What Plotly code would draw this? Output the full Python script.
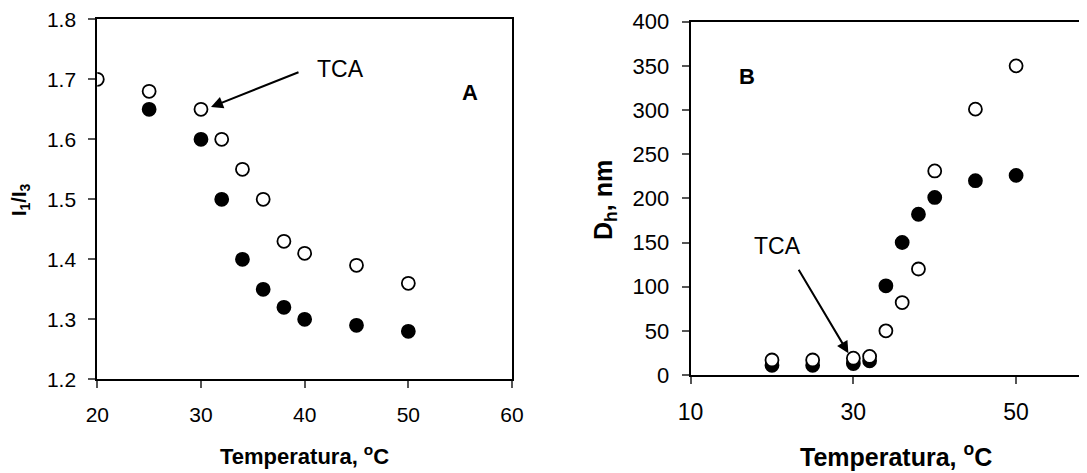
import plotly.graph_objects as go

# Window is 1087x473; the page body has an 8px default margin,
# so the figure is sized to fill the remaining area.
WIN_W, WIN_H = 1087, 473
OFF = 8
W, H = WIN_W - OFF, WIN_H - OFF

# Panel A: I1/I3 vs temperature
tempA_open = [20, 25, 30, 32, 34, 36, 38, 40, 45, 50]
ratio_open = [1.70, 1.68, 1.65, 1.60, 1.55, 1.50, 1.43, 1.41, 1.39, 1.36]
tempA_fill = [25, 30, 32, 34, 36, 38, 40, 45, 50]
ratio_fill = [1.65, 1.60, 1.50, 1.40, 1.35, 1.32, 1.30, 1.29, 1.28]

# Panel B: Dh vs temperature
tempB = [20, 25, 30, 32, 34, 36, 38, 40, 45, 50]
dh_open = [17, 17, 19, 21, 50, 82, 120, 231, 301, 350]
dh_fill = [11, 11, 13, 16, 101, 150, 182, 201, 220, 226]

xA_ticks = [20, 30, 40, 50, 60]
yA_ticks = [1.2, 1.3, 1.4, 1.5, 1.6, 1.7, 1.8]
xB_ticks = [10, 30, 50]
yB_ticks = [0, 50, 100, 150, 200, 250, 300, 350, 400]

FONT = "Liberation Sans, Arial, sans-serif"


def px(x):
    return (x - OFF) / W


def py(y):
    return 1 - (y - OFF) / H


fig = go.Figure()

mk_fill = dict(size=13, color="black", line=dict(color="black", width=1.8))
mk_open = dict(size=13, color="white", line=dict(color="black", width=1.8))

fig.add_trace(go.Scatter(x=tempA_fill, y=ratio_fill, mode="markers", marker=mk_fill,
                         xaxis="x", yaxis="y", showlegend=False))
fig.add_trace(go.Scatter(x=tempA_open, y=ratio_open, mode="markers", marker=mk_open,
                         xaxis="x", yaxis="y", showlegend=False))
fig.add_trace(go.Scatter(x=tempB, y=dh_fill, mode="markers", marker=mk_fill,
                         xaxis="x2", yaxis="y2", showlegend=False))
fig.add_trace(go.Scatter(x=tempB, y=dh_open, mode="markers", marker=mk_open,
                         xaxis="x2", yaxis="y2", showlegend=False))

axis_common = dict(showgrid=False, zeroline=False, showline=True, linecolor="black",
                   linewidth=2, ticks="outside", ticklen=7, tickwidth=1.5,
                   tickcolor="#555", automargin=False, ticklabeloverflow="allow")

# Panel A axes
a_left, a_right, a_top, a_bot = 97.3, 512, 19.3, 379.3
fig.update_layout(
    xaxis=dict(domain=[px(a_left), px(a_right)], range=[20, 60], tickvals=xA_ticks,
               mirror=True, anchor="y", ticklabelstandoff=8,
               tickfont=dict(family=FONT, size=21, color="black"), **axis_common),
    yaxis=dict(domain=[py(a_bot), py(a_top)], range=[1.2, 1.8], tickvals=yA_ticks,
               tickformat=".1f", mirror=True, anchor="x", ticklabelstandoff=8,
               tickfont=dict(family=FONT, size=21, color="black"), **axis_common),
    # inside half of the crossing x ticks
    xaxis3=dict(domain=[px(a_left), px(a_right)], range=[20, 60], tickvals=xA_ticks,
                overlaying="x", anchor="y", side="bottom", showline=False,
                showgrid=False, zeroline=False, showticklabels=False,
                ticks="inside", ticklen=4, tickwidth=1.5, tickcolor="#555",
                automargin=False),
)

# Panel B axes (cut at right window edge)
b_left, b_top, b_bot = 690.6, 21.7, 375
px_per_unit = (1016.1 - b_left) / 40
b_xmax = 10 + (WIN_W - b_left) / px_per_unit
fig.update_layout(
    xaxis2=dict(domain=[px(b_left), 1.0], range=[10, b_xmax], tickvals=xB_ticks,
                mirror=True, anchor="y2", ticklabelstandoff=8,
                tickfont=dict(family=FONT, size=23, color="black"), **axis_common),
    yaxis2=dict(domain=[py(b_bot), py(b_top)], range=[0, 400], tickvals=yB_ticks,
                mirror=False, anchor="x2", ticklabelstandoff=8,
                tickfont=dict(family=FONT, size=22, color="black"), **axis_common),
    xaxis4=dict(domain=[px(b_left), 1.0], range=[10, b_xmax], tickvals=xB_ticks,
                overlaying="x2", anchor="y2", side="bottom", showline=False,
                showgrid=False, zeroline=False, showticklabels=False,
                ticks="inside", ticklen=4, tickwidth=1.5, tickcolor="#555",
                automargin=False),
)


def label(x, y, text, size, angle=0):
    return dict(x=px(x), y=py(y), xref="paper", yref="paper", showarrow=False,
                xanchor="center", yanchor="middle", textangle=angle, text=text,
                font=dict(family=FONT, size=size, color="black"))


annotations = [
    # axis titles
    label(304.6, 455, "<b>Temperatura, <sup>o</sup>C</b>", 22),
    label(21, 200, "<b>I<sub>1</sub>/I<sub>3</sub></b>", 20, -90),
    label(896, 455, "<b>Temperatura, <sup>o</sup>C</b>", 25),
    label(605, 200, "<b>D<sub>h</sub>, nm</b>", 25, -90),
    # panel letters
    label(469.7, 92, "<b>A</b>", 22),
    label(746.5, 76, "<b>B</b>", 22),
    # TCA labels
    label(340.5, 69, "TCA", 23),
    label(777, 246, "TCA", 23),
    # arrows (tail offsets in pixels relative to the head)
    dict(x=px(211), y=py(107), xref="paper", yref="paper",
         ax=89, ay=-35.3, axref="pixel", ayref="pixel", text="",
         showarrow=True, arrowhead=2, arrowsize=1.2, arrowwidth=2, arrowcolor="black"),
    dict(x=px(848.4), y=py(353.3), xref="paper", yref="paper",
         ax=-50.6, ay=-85, axref="pixel", ayref="pixel", text="",
         showarrow=True, arrowhead=2, arrowsize=1.2, arrowwidth=2, arrowcolor="black"),
]

fig.update_layout(
    width=W, height=H, margin=dict(l=0, r=0, t=0, b=0, autoexpand=False),
    paper_bgcolor="white", plot_bgcolor="white",
    annotations=annotations, showlegend=False,
)

fig.write_html("out.html")
